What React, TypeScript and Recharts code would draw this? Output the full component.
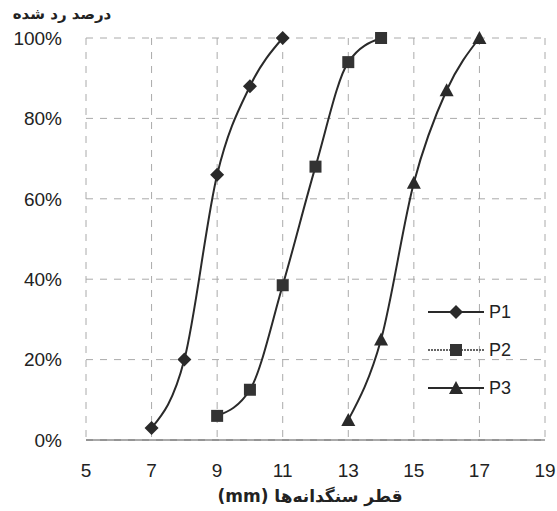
import React from 'react';
import { LineChart, Line, XAxis, YAxis, CartesianGrid } from 'recharts';

// grain size (mm) vs percent retained
const p1X = [7, 8, 9, 10, 11];
const p1Y = [3, 20, 66, 88, 100];
const p2X = [9, 10, 11, 12, 13, 14];
const p2Y = [6, 12.5, 38.5, 68, 94, 100];
const p3X = [13, 14, 15, 16, 17];
const p3Y = [5, 25, 64, 87, 100];

const xTicks = [5, 7, 9, 11, 13, 15, 17, 19];
const yTicks = [0, 20, 40, 60, 80, 100];

const yTitle = 'درصد رد شده';
const xTitle = 'قطر سنگدانه‌ها (mm)';

const seriesNames = ['P1', 'P2', 'P3'];

const toRows = (xs: number[], ys: number[]) => xs.map((x, i) => ({ x, y: ys[i] }));

const INK = '#2a2a2a';
const tickFont = { fill: '#222', fontSize: 19, fontFamily: 'Liberation Sans, Arial' };

const Marker = ({ cx, cy, kind }: { cx: number; cy: number; kind: string }) => {
  if (cx == null || cy == null) return null;
  if (kind === 'diamond') {
    return <polygon points={`${cx},${cy - 7} ${cx + 7},${cy} ${cx},${cy + 7} ${cx - 7},${cy}`} fill={INK} />;
  }
  if (kind === 'square') {
    return <rect x={cx - 6} y={cy - 6} width={12} height={12} fill="#333" />;
  }
  return <polygon points={`${cx},${cy - 7} ${cx + 7},${cy + 6} ${cx - 7},${cy + 6}`} fill={INK} />;
};

const kinds = ['diamond', 'square', 'triangle'];

const LegendIcon = ({ kind }: { kind: string }) => (
  <svg width={56} height={16} style={{ display: 'block' }}>
    <line x1={0} y1={8} x2={56} y2={8} stroke={kind === 'square' ? '#666' : INK} strokeWidth={2}
      strokeDasharray={kind === 'square' ? '2 1' : undefined} />
    <Marker cx={28} cy={8} kind={kind} />
  </svg>
);

export default function App() {
  const series = [toRows(p1X, p1Y), toRows(p2X, p2Y), toRows(p3X, p3Y)];
  return (
    <div style={{ position: 'absolute', left: 0, top: 0, width: 557, height: 511, background: '#fff' }}>
      <LineChart width={557} height={511} margin={{ top: 38, right: 12, bottom: 41, left: 16 }}>
        <CartesianGrid stroke="#aaa" strokeDasharray="7 7" />
        <XAxis
          type="number"
          dataKey="x"
          domain={[5, 19]}
          ticks={xTicks}
          allowDuplicatedCategory={false}
          height={30}
          tickSize={0}
          tickMargin={24}
          axisLine={{ stroke: '#555' }}
          tick={tickFont}
        />
        <YAxis
          type="number"
          dataKey="y"
          domain={[0, 100]}
          ticks={yTicks}
          width={70}
          tickSize={0}
          tickMargin={24}
          axisLine={false}
          tickFormatter={(v: number) => `${v}%`}
          tick={tickFont}
        />
        {series.map((rows, i) => (
          <Line
            key={seriesNames[i]}
            data={rows}
            dataKey="y"
            name={seriesNames[i]}
            type="monotone"
            stroke={INK}
            strokeWidth={2}
            isAnimationActive={false}
            dot={(p: any) => <Marker key={`${i}-${p.index}`} cx={p.cx} cy={p.cy} kind={kinds[i]} />}
            activeDot={false}
          />
        ))}
      </LineChart>

      <div
        dir="rtl"
        style={{
          position: 'absolute', left: 8, top: 5, width: 108, textAlign: 'center',
          fontFamily: 'DejaVu Sans', fontWeight: 'bold', fontSize: 15, color: '#222'
        }}
      >
        {yTitle}
      </div>

      <div
        dir="rtl"
        style={{
          position: 'absolute', left: 160, top: 486, width: 300, textAlign: 'center',
          fontFamily: 'DejaVu Sans', fontWeight: 'bold', fontSize: 17, color: '#222'
        }}
      >
        {xTitle}
      </div>

      <div style={{ position: 'absolute', left: 428, top: 293 }}>
        {seriesNames.map((n, i) => (
          <div key={n} style={{ display: 'flex', alignItems: 'center', height: 38 }}>
            <LegendIcon kind={kinds[i]} />
            <span style={{ marginLeft: 5, fontFamily: 'Liberation Sans, Arial', fontSize: 18, color: '#222' }}>{n}</span>
          </div>
        ))}
      </div>
    </div>
  );
}
